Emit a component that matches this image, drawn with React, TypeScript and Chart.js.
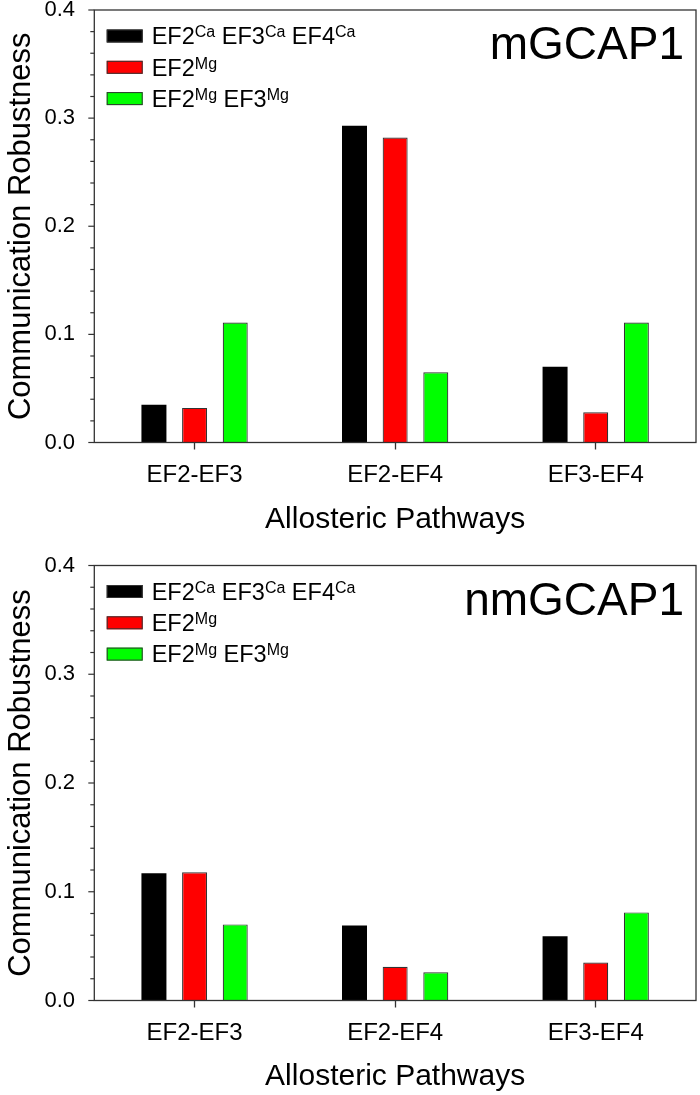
import React, { useEffect, useRef } from "react";
import { Chart, registerables } from "chart.js";

Chart.register(...registerables);

// ---------- data ----------
const categories = ["EF2-EF3", "EF2-EF4", "EF3-EF4"];

// legend labels: [main text, superscript] pairs
const seriesLabelParts: [string, string][][] = [
  [["EF2", "Ca"], ["EF3", "Ca"], ["EF4", "Ca"]],
  [["EF2", "Mg"]],
  [["EF2", "Mg"], ["EF3", "Mg"]],
];
const seriesColors = ["#000000", "#ff0000", "#00ff00"];

const mGCAP1_allCa = [0.035, 0.293, 0.07];
const mGCAP1_EF2Mg = [0.032, 0.282, 0.028];
const mGCAP1_EF2EF3Mg = [0.111, 0.065, 0.111];

const nmGCAP1_allCa = [0.117, 0.069, 0.059];
const nmGCAP1_EF2Mg = [0.118, 0.031, 0.035];
const nmGCAP1_EF2EF3Mg = [0.07, 0.026, 0.081];

const panelTitles = ["mGCAP1", "nmGCAP1"];
const xAxisTitle = "Allosteric Pathways";
const yAxisTitle = "Communication Robustness";
const yMin = 0;
const yMax = 0.4;
const yStep = 0.1;
const minorPerMajor = 5;

// ---------- layout / style ----------
const FONT = "'Liberation Sans', Arial, sans-serif";
const AXIS_COLOR = "#333333";
const PLOT_LEFT = 94.3;
const PLOT_RIGHT = 696;
const PAGE_W = 700;

type PanelProps = {
  title: string;
  values: number[][];
  panelTop: number;
  panelHeight: number;
  plotTop: number;
  plotBottom: number;
};

function makeDecorPlugin(title: string) {
  return {
    id: "panelDecor",
    afterDraw(chart: any) {
      const { ctx, chartArea: a, scales } = chart;
      const y = scales.y;
      ctx.save();
      // frame
      ctx.strokeStyle = AXIS_COLOR;
      ctx.lineWidth = 1.3;
      ctx.strokeRect(a.left, a.top, a.right - a.left, a.bottom - a.top);
      // y ticks (major + minor)
      ctx.lineWidth = 1.2;
      const tv = y.ticks.map((t: any) => t.value);
      for (let i = 0; i < tv.length; i++) {
        const py = y.getPixelForValue(tv[i]);
        ctx.beginPath();
        ctx.moveTo(a.left - 6, py);
        ctx.lineTo(a.left, py);
        ctx.stroke();
        if (i < tv.length - 1) {
          for (let k = 1; k < minorPerMajor; k++) {
            const v = tv[i] + ((tv[i + 1] - tv[i]) * k) / minorPerMajor;
            const pm = y.getPixelForValue(v);
            ctx.beginPath();
            ctx.moveTo(a.left - 4, pm);
            ctx.lineTo(a.left, pm);
            ctx.stroke();
          }
        }
      }
      // legend
      chart.data.datasets.forEach((ds: any, i: number) => {
        const cy = a.top + 26 + 31.3 * i;
        const sx = a.left + 12.4;
        ctx.fillStyle = ds.backgroundColor;
        ctx.fillRect(sx, cy - 6.5, 36, 13);
        ctx.strokeStyle = AXIS_COLOR;
        ctx.lineWidth = 1;
        ctx.strokeRect(sx + 0.5, cy - 6.5 + 0.5, 35, 12);
        let tx = a.left + 57.4;
        const base = cy + 8.2;
        ctx.fillStyle = "#000";
        ctx.textAlign = "left";
        ctx.textBaseline = "alphabetic";
        (ds.labelParts as [string, string][]).forEach(([main, sup], j) => {
          ctx.font = `23.5px ${FONT}`;
          const m = (j > 0 ? " " : "") + main;
          ctx.fillText(m, tx, base);
          tx += ctx.measureText(m).width;
          ctx.font = `16px ${FONT}`;
          ctx.fillText(sup, tx, base - 7);
          tx += ctx.measureText(sup).width;
        });
      });
      // panel title
      ctx.font = `46px ${FONT}`;
      ctx.fillStyle = "#000";
      ctx.textAlign = "right";
      ctx.textBaseline = "alphabetic";
      ctx.fillText(title, a.right - 12, a.top + 49);
      ctx.restore();
    },
  };
}

function Panel({ title, values, panelTop, panelHeight, plotTop, plotBottom }: PanelProps) {
  const ref = useRef<HTMLCanvasElement | null>(null);
  useEffect(() => {
    if (!ref.current) return;
    const xScaleHeight = panelTop + panelHeight - plotBottom;
    const xTitleCenter = plotBottom + 77.5;
    const xTitleLH = 30 * 1.2;
    const xTitlePadBottom = Math.max(0, panelTop + panelHeight - xTitleCenter - xTitleLH / 2);
    const chart = new Chart(ref.current, {
      type: "bar",
      data: {
        labels: categories,
        datasets: values.map((v, i) => ({
          label: seriesLabelParts[i].map((p) => p[0] + p[1]).join(" "),
          labelParts: seriesLabelParts[i],
          data: v,
          backgroundColor: seriesColors[i],
          borderColor: AXIS_COLOR,
          borderWidth: i === 0 ? 0 : 1.2,
          barPercentage: 0.615,
          categoryPercentage: 0.608,
        })) as any,
      },
      options: {
        responsive: false,
        animation: false,
        devicePixelRatio: 1,
        layout: {
          padding: { top: plotTop - panelTop, right: PAGE_W - PLOT_RIGHT, left: 0, bottom: 0 },
        },
        plugins: {
          legend: { display: false },
          tooltip: { enabled: false },
        },
        scales: {
          x: {
            type: "category",
            grid: {
              display: true,
              drawOnChartArea: false,
              drawTicks: true,
              tickLength: 7,
              tickColor: AXIS_COLOR,
              tickWidth: 1.3,
              offset: false,
            },
            border: { display: false },
            ticks: {
              color: "#000",
              font: { family: FONT, size: 24 },
              padding: 11.5,
              maxRotation: 0,
            },
            title: {
              display: true,
              text: xAxisTitle,
              color: "#000",
              font: { family: FONT, size: 30, lineHeight: 1.2 },
              padding: { top: 0, bottom: xTitlePadBottom },
            },
            afterFit: (s: any) => {
              s.height = xScaleHeight;
              s.paddingLeft = 0;
              s.paddingRight = 0;
            },
          },
          y: {
            type: "linear",
            min: yMin,
            max: yMax,
            grid: { display: true, drawOnChartArea: false, drawTicks: false },
            border: { display: false },
            ticks: {
              stepSize: yStep,
              color: "#000",
              font: { family: FONT, size: 22 },
              padding: 19.3,
              callback: (v: any) => Number(v).toFixed(1),
            },
            title: {
              display: true,
              text: yAxisTitle,
              color: "#000",
              font: { family: FONT, size: 31, lineHeight: 1.2 },
              padding: { top: 3, bottom: 0 },
            },
            afterFit: (s: any) => {
              s.width = PLOT_LEFT;
              s.paddingTop = 0;
              s.paddingBottom = 0;
            },
          },
        },
      } as any,
      plugins: [makeDecorPlugin(title)],
    });
    return () => chart.destroy();
  }, [title, values, panelTop, panelHeight, plotTop, plotBottom]);

  return (
    <div
      style={{
        position: "absolute",
        left: 0,
        top: panelTop,
        width: PAGE_W,
        height: panelHeight,
      }}
    >
      <canvas
        ref={ref}
        width={PAGE_W}
        height={panelHeight}
        style={{ width: PAGE_W, height: panelHeight, display: "block" }}
      />
    </div>
  );
}

const topValues = [mGCAP1_allCa, mGCAP1_EF2Mg, mGCAP1_EF2EF3Mg];
const bottomValues = [nmGCAP1_allCa, nmGCAP1_EF2Mg, nmGCAP1_EF2EF3Mg];

export default function App() {
  return (
    <div
      style={{
        position: "absolute",
        left: 0,
        top: 0,
        width: PAGE_W,
        height: 1095,
        background: "#ffffff",
        overflow: "hidden",
      }}
    >
      <Panel
        title={panelTitles[0]}
        values={topValues}
        panelTop={0}
        panelHeight={545}
        plotTop={10}
        plotBottom={442.5}
      />
      <Panel
        title={panelTitles[1]}
        values={bottomValues}
        panelTop={545}
        panelHeight={550}
        plotTop={565.5}
        plotBottom={1000.5}
      />
    </div>
  );
}
